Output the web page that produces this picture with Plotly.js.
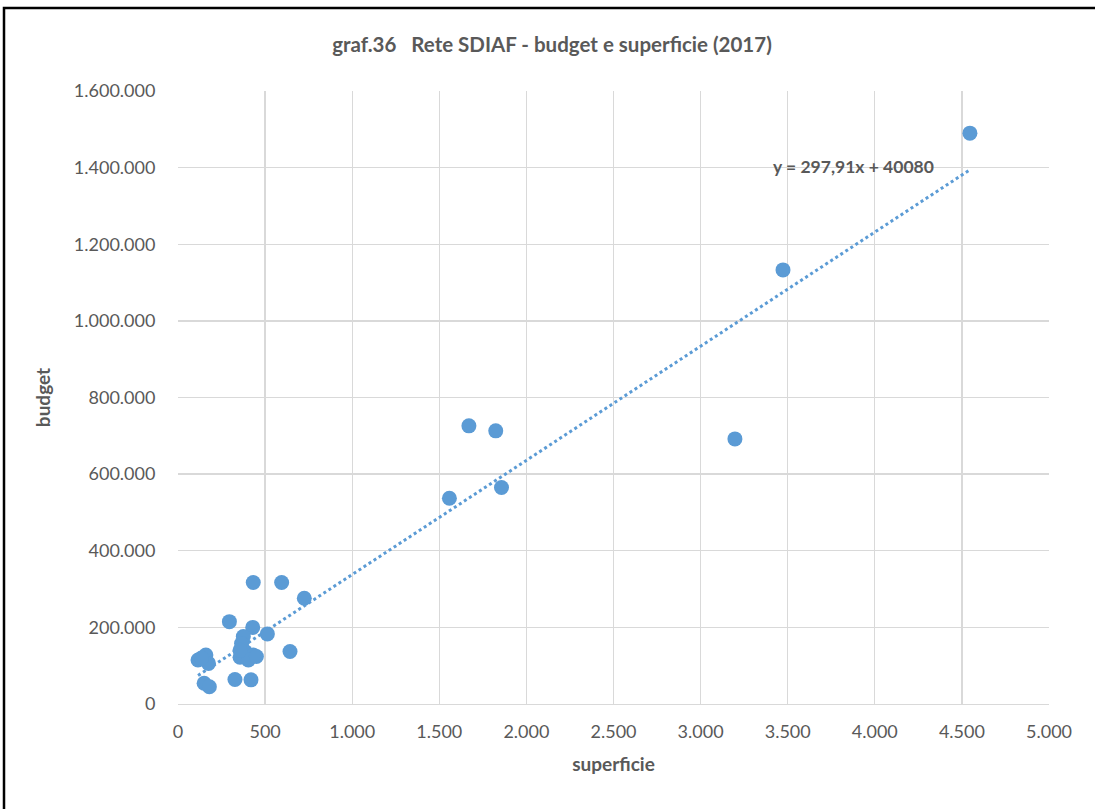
<!DOCTYPE html>
<html>
<head>
<meta charset="utf-8">
<script src="https://cdn.plot.ly/plotly-3.0.1.min.js"></script>
<style>
html,body{margin:0;padding:0;background:#fff;}
#chart{width:1095px;height:809px;}
</style>
</head>
<body>
<div id="chart"></div>
<script>
const superficie = [4546, 3473, 3197, 1670, 1824, 1857, 1558, 725, 595, 432, 295, 429, 513, 643, 375, 365, 385, 356, 432, 404, 356, 450, 160, 115, 175, 135, 150, 180, 327, 419];
const budget = [1490000, 1133000, 692000, 726000, 713000, 565000, 537000, 276000, 317000, 317000, 215000, 200000, 183000, 137000, 176000, 158000, 137000, 122000, 128000, 115000, 140000, 124000, 128000, 115000, 106000, 120000, 54000, 45000, 64000, 63000];
const slope = 297.91;
const intercept = 40080;
const equationText = "y = 297,91x + 40080";
const titleText = "graf.36   Rete SDIAF - budget e superficie (2017)";
const xTitle = "superficie";
const yTitle = "budget";

const xMin = Math.min(...superficie), xMax = Math.max(...superficie);
const trendX = [xMin, xMax];
const trendY = trendX.map(x => slope * x + intercept);

const font = "Lato, 'Open Sans', sans-serif";
const textColor = "#595959";
const gridColor = "#D9D9D9";
const blue = "#5B9BD5";

const data = [
  {
    x: trendX, y: trendY, type: "scatter", mode: "lines",
    line: {color: blue, width: 3, dash: "dot"},
    hoverinfo: "skip", showlegend: false
  },
  {
    x: superficie, y: budget, type: "scatter", mode: "markers",
    marker: {color: blue, size: 15, line: {width: 0}},
    showlegend: false
  }
];

const layout = {
  width: 1095, height: 809,
  paper_bgcolor: "#fff", plot_bgcolor: "#fff",
  separators: ",.",
  margin: {l: 178, r: 46, t: 91, b: 105},
  font: {family: font, color: textColor, size: 18},
  title: {
    text: "<b>" + titleText + "</b>",
    font: {family: font, size: 20.5, color: textColor},
    x: 552 / 1095, xref: "container", xanchor: "center",
    y: 1 - 45 / 809, yref: "container", yanchor: "middle"
  },
  xaxis: {
    range: [0, 5000], dtick: 500, tickformat: ",d",
    showgrid: true, gridcolor: gridColor, gridwidth: 1.3,
    zeroline: false, showline: true, linecolor: gridColor, linewidth: 1.3,
    ticks: "outside", ticklen: 11, tickcolor: "rgba(0,0,0,0)",
    tickfont: {family: font, size: 18, color: textColor},
    title: {text: "<b>" + xTitle + "</b>", font: {family: font, size: 19, color: textColor}, standoff: 16},
    fixedrange: true
  },
  yaxis: {
    range: [0, 1600000], dtick: 200000, tickformat: ",d",
    showgrid: true, gridcolor: gridColor, gridwidth: 1.3,
    zeroline: false, showline: false,
    ticks: "outside", ticklen: 18, tickcolor: "rgba(0,0,0,0)",
    tickfont: {family: font, size: 18, color: textColor},
    title: {text: "<b>" + yTitle + "</b>", font: {family: font, size: 19, color: textColor}, standoff: 18},
    fixedrange: true
  },
  annotations: [
    {
      x: 3875, y: 1404000, xref: "x", yref: "y",
      text: "<b>" + equationText + "</b>", showarrow: false,
      font: {family: font, size: 17.5, color: textColor},
      xanchor: "center", yanchor: "middle"
    }
  ],
  shapes: [
    {
      type: "rect", xref: "paper", yref: "paper",
      x0: -174 / 871, x1: 1.2, y0: -0.3, y1: 1 + 83 / 613,
      line: {color: "#000", width: 2.5}, fillcolor: "rgba(0,0,0,0)", layer: "below"
    }
  ]
};

Plotly.newPlot("chart", data, layout, {displayModeBar: false, staticPlot: true});
</script>
</body>
</html>
